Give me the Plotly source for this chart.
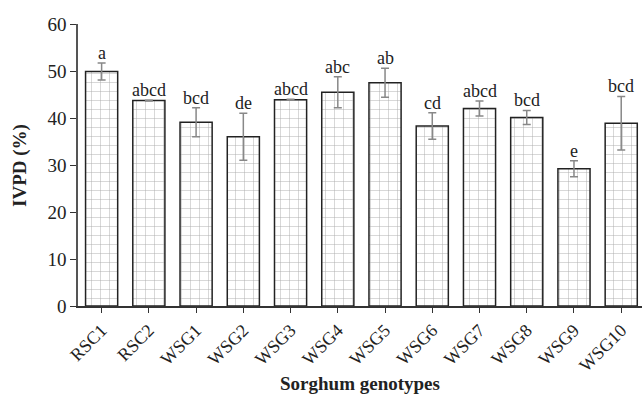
import plotly.graph_objects as go

genotypes = ["RSC1", "RSC2", "WSG1", "WSG2", "WSG3", "WSG4", "WSG5", "WSG6", "WSG7", "WSG8", "WSG9", "WSG10"]
ivpd = [49.9, 43.7, 39.1, 36.0, 43.9, 45.5, 47.5, 38.3, 42.0, 40.1, 29.2, 38.9]
err = [1.8, 0.1, 3.1, 5.0, 0.1, 3.3, 3.1, 2.8, 1.6, 1.5, 1.7, 5.7]
letters = ["a", "abcd", "bcd", "de", "abcd", "abc", "ab", "cd", "abcd", "bcd", "e", "bcd"]

FONT = "Liberation Serif"

fig = go.Figure()
fig.add_trace(go.Bar(
    x=genotypes, y=ivpd,
    marker=dict(
        color="white",
        line=dict(color="#222", width=1.5),
        pattern=dict(shape="+", fgcolor="#555", bgcolor="white", size=9, solidity=0.1),
    ),
    error_y=dict(type="data", array=err, visible=True, color="#888", thickness=1.5, width=4),
))

for g, v, e, lab in zip(genotypes, ivpd, err, letters):
    fig.add_annotation(x=g, y=v + e, text=lab, showarrow=False, yanchor="bottom",
                       yshift=-2, font=dict(family=FONT, size=18, color="#222"))

fig.add_annotation(xref="paper", yref="paper", x=0.5, y=-0.274, text="<b>Sorghum genotypes</b>",
                   showarrow=False, xanchor="center", yanchor="middle",
                   font=dict(family=FONT, size=19, color="#222"))
fig.add_annotation(xref="paper", yref="paper", x=-0.103, y=0.5, text="<b>IVPD (%)</b>",
                   showarrow=False, xanchor="center", yanchor="middle", textangle=-90,
                   font=dict(family=FONT, size=19, color="#222"))

fig.update_layout(
    width=642, height=395,
    margin=dict(l=78, r=0, t=24, b=89),
    plot_bgcolor="white", paper_bgcolor="white",
    bargap=0.32,
    showlegend=False,
    font=dict(family=FONT, color="#222"),
)
fig.update_xaxes(
    range=[-0.5, 11.44],
    showline=True, linecolor="#333", linewidth=1.5,
    ticks="outside", ticklen=5, tickcolor="#333",
    tickangle=-45, tickfont=dict(family=FONT, size=18, color="#222"),
    showgrid=False,
)
fig.update_yaxes(
    range=[0, 60], dtick=10,
    showline=True, linecolor="#555", linewidth=1.5,
    ticks="outside", ticklen=6, tickcolor="#333",
    tickfont=dict(family=FONT, size=19, color="#222"),
    showgrid=False, zeroline=False,
)
fig.write_html("out.html")
